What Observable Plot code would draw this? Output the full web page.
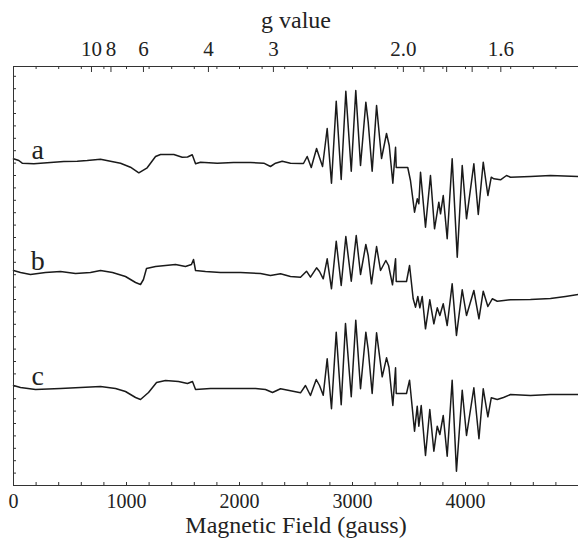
<!DOCTYPE html>
<html><head><meta charset="utf-8">
<script src="https://cdn.jsdelivr.net/npm/d3@7"></script>
<script src="https://cdn.jsdelivr.net/npm/@observablehq/plot@0.6"></script>
<style>
body{margin:0;background:#fff}
svg{display:block}
#chart svg, #chart svg text{font-family:"Liberation Serif","Times New Roman",serif !important;}
</style>
</head><body><div id="chart"></div>
<script>
// ---- data (field in gauss, signal in arbitrary units) ----
const traceNames = ["a", "b", "c"];
const traceOffsets = [323, 212, 97];

const traceA = [[0,3.7],[47,2],[77,-0.7],[180,-1.3],[298,-0.3],[445,1],[564,1.3],[652,2],[770,3.3],[858,1.3],[947,-0.7],[1035,-4.7],[1109,-10.3],[1183,-5.3],[1257,6],[1301,8],[1419,8],[1493,5.3],[1540,5.5],[1582,7.7],[1611,-1.3],[1655,0.3],[1803,-0.7],[1947,0],[2097,0],[2215,-0.7],[2274,-4],[2319,-0.7],[2378,1.3],[2451,-0.7],[2540,-1],[2566,-1],[2599,6],[2635,-5],[2682,14],[2708,5],[2735,-4],[2776,34],[2814,-20.7],[2856,61.3],[2900,-17],[2941,71.3],[2989,-8.7],[3029,72],[3071,-3],[3118,60.3],[3139,40.3],[3174,-8.7],[3213,57],[3257,4],[3301,29],[3325,17],[3357,-20.7],[3381,15.3],[3387,-5],[3489,-5],[3513,-18],[3549,-49.7],[3573,-36.3],[3587,-41.3],[3602,-9.7],[3646,-64.7],[3690,-13],[3726,-66.3],[3764,-39.7],[3779,-51.3],[3803,-33],[3838,-76.3],[3882,3.7],[3927,-94.7],[3971,-3],[4009,-56.3],[4074,-1.3],[4113,-52],[4157,0.3],[4198,-33],[4228,-14.7],[4251,-16.3],[4310,-17.3],[4363,-13],[4398,-14.7],[4575,-14],[4752,-13],[5000,-14]];

const traceB = [[0,3],[62,1],[150,-1],[283,1],[416,2],[549,0],[681,1],[770,3],[876,1],[991,-3],[1080,-9],[1124,-11],[1150,-6],[1177,5],[1257,7],[1345,8],[1434,9],[1522,7],[1575,9],[1593,14],[1611,3],[1699,2],[1832,1],[2009,1],[2186,0],[2274,-2],[2363,-0.3],[2451,-3],[2540,-3.7],[2593,2.3],[2628,-3.7],[2682,5.7],[2708,2],[2741,-5.3],[2776,14.7],[2814,-15.3],[2856,32.3],[2900,-12],[2941,37],[2989,-7.7],[3033,38],[3071,-1],[3118,29],[3139,18],[3168,-10.3],[3213,27],[3248,3],[3295,13],[3319,8],[3354,-11.3],[3381,14.7],[3387,-8],[3478,-8],[3505,8],[3537,-25.3],[3558,-33.7],[3578,-23],[3596,-34.3],[3617,-23],[3646,-55.3],[3684,-26.3],[3720,-50.3],[3750,-34.3],[3773,-42],[3803,-30.3],[3838,-52],[3882,-10.3],[3920,-62],[3971,-16.3],[4009,-42],[4074,-17],[4119,-45.3],[4157,-17.7],[4198,-33],[4237,-25.3],[4281,-27.7],[4339,-27],[4398,-26.3],[4575,-26],[4752,-25],[4885,-23],[5000,-21]];

const traceC = [[0,3],[62,1],[195,-1],[416,0],[593,1],[770,2],[903,0],[991,-3],[1080,-9],[1124,-11],[1195,-4],[1266,6],[1345,8],[1460,7],[1540,5],[1584,7],[1611,-1],[1743,0],[1920,0],[2142,0],[2230,-1],[2292,-4],[2363,-0.3],[2540,-4.3],[2584,3],[2628,-7],[2679,9],[2708,3],[2741,-6.7],[2776,29.7],[2814,-20.3],[2856,56.3],[2900,-16.3],[2938,65],[2989,-8.3],[3029,68.3],[3071,-0.3],[3118,56.3],[3139,39],[3174,-5],[3213,55.7],[3263,11.7],[3301,30.7],[3323,21],[3357,-17],[3381,20.7],[3387,-5],[3478,-5],[3505,8.3],[3549,-42.7],[3573,-17.7],[3587,-37.7],[3608,-17],[3646,-67],[3684,-21],[3720,-62.7],[3750,-37.7],[3773,-46],[3803,-27],[3838,-67.7],[3882,8.3],[3920,-82.7],[3971,-1.7],[4009,-47],[4074,0.7],[4119,-50.3],[4157,-0.3],[4198,-28.3],[4228,-9.3],[4281,-11],[4336,-9],[4398,-6],[4575,-7],[4752,-6],[5000,-6]];

const fieldTickValues = [0, 1000, 2000, 3000, 4000];
const gTickValues = [10, 8, 6, 4, 3, 2.0, 1.9, 1.8, 1.7, 1.6];
const gTickLabels = ["10", "8", "6", "4", "3", "2.0", "", "", "", "1.6"];
const gFieldConstant = 6900; // field (G) at g = 1 for this microwave frequency

// ---- layout ----
const W = 578, H = 538;
const mt = 66, mb = 53, ml = 13, mr = 0;
const innerH = H - mt - mb, innerW = W - ml - mr;
const yMax = innerH;

const traces = [traceA, traceB, traceC];
const rows = traces.flatMap((t, i) => t.map(([f, v]) => ({trace: traceNames[i], field: f, value: v + traceOffsets[i]})));
const minorTicks = d3.range(0, 5001, 200);
const leftTicks = d3.range(0, yMax + 1, 12.4);
const fieldOfG = g => gFieldConstant / g;

const font = "Liberation Serif";
const ink = "#222";
const chart = Plot.plot({
  width: W, height: H,
  marginTop: mt, marginBottom: mb, marginLeft: ml, marginRight: mr,
  x: {domain: [0, 5000], axis: null},
  y: {domain: [0, yMax], axis: null},
  style: {fontFamily: font, background: "#fff", color: ink},
  marks: [
    Plot.line(rows, {x: "field", y: "value", z: "trace", stroke: "#1a1a1a", strokeWidth: 1.5, strokeLinejoin: "round"}),
    Plot.ruleX([0], {stroke: "#333", strokeWidth: 1}),
    Plot.ruleY([0, yMax], {stroke: "#333", strokeWidth: 1}),
    Plot.tickX(minorTicks, {x: d => d, insetTop: innerH - 3, stroke: "#333"}),
    Plot.tickX(minorTicks, {x: d => d, insetBottom: innerH - 3, stroke: "#333"}),
    Plot.tickX(gTickValues, {x: fieldOfG, insetBottom: innerH - 6, stroke: "#333"}),
    Plot.tickY(leftTicks, {y: d => d, insetRight: innerW - 3, stroke: "#333"}),
    Plot.text(fieldTickValues, {x: d => d, text: d => String(d), frameAnchor: "bottom", lineAnchor: "bottom", dy: 22, fontSize: 20, fontFamily: font, fill: ink}),
    Plot.text(gTickValues, {x: fieldOfG, text: (d, i) => gTickLabels[i], frameAnchor: "top", lineAnchor: "bottom", dy: -11, fontSize: 21, fontFamily: font, fill: ink}),
    Plot.text(["g value"], {text: d => d, frameAnchor: "top", lineAnchor: "bottom", dy: -39, fontSize: 24, fontFamily: font, fill: ink}),
    Plot.text(["Magnetic Field (gauss)"], {text: d => d, frameAnchor: "bottom", lineAnchor: "bottom", dy: 47, fontSize: 24, fontFamily: font, fill: ink}),
    Plot.text(traceNames, {x: 215, y: (d, i) => traceOffsets[i] + 4, text: d => d, lineAnchor: "bottom", fontSize: 28, fontFamily: font, fill: ink})
  ]
});
document.getElementById("chart").appendChild(chart);
</script>
</body></html>
